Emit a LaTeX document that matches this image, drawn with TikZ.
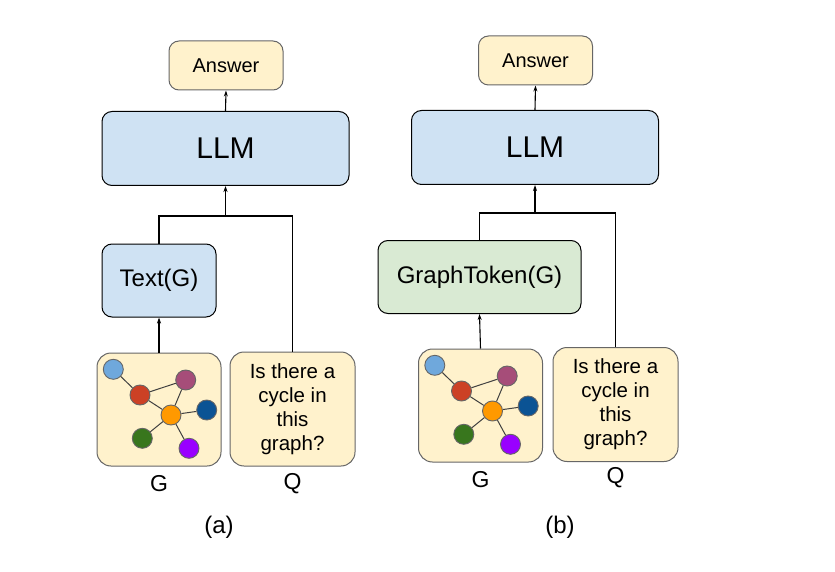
\documentclass[tikz,border=0pt]{standalone}
\usepackage{fontspec}
\setmainfont{Liberation Sans}
\usetikzlibrary{positioning, arrows.meta}

\definecolor{boxyellow}{HTML}{FFF2CC}
\definecolor{boxblue}{HTML}{CFE2F3}
\definecolor{boxgreen}{HTML}{D9EAD3}
\definecolor{boxgray}{HTML}{666666}
\definecolor{glblue}{HTML}{6FA8DC}
\definecolor{gred}{HTML}{CC4125}
\definecolor{gmauve}{HTML}{A64D79}
\definecolor{gorange}{HTML}{FF9900}
\definecolor{gdblue}{HTML}{0B5394}
\definecolor{ggreen}{HTML}{38761D}
\definecolor{gviolet}{HTML}{9900FF}

\tikzset{
    gnode/.style={circle, draw=boxgray, line width=0.9pt, minimum size=20pt, inner sep=0pt},
    gedge/.style={draw=black!75, line width=1pt},
    % small graph drawn inside the G boxes
    graphpic/.pic={
        \node[gnode, fill=glblue] (-lb) at (-45.7,-40.2) {};
        \node[gnode, fill=gred] (-rd) at (-19,-14.5) {};
        \node[gnode, fill=gmauve] (-mv) at (26.7,-29.5) {};
        \node[gnode, fill=gorange] (-or) at (12,5.5) {};
        \node[gnode, fill=gdblue] (-db) at (47.7,0.5) {};
        \node[gnode, fill=ggreen] (-gr) at (-16.7,28.8) {};
        \node[gnode, fill=gviolet] (-vi) at (30,38.8) {};
        \draw[gedge] (-lb) -- (-rd);
        \draw[gedge] (-rd) -- (-mv);
        \draw[gedge] (-rd) -- (-or);
        \draw[gedge] (-mv) -- (-or);
        \draw[gedge] (-or) -- (-db);
        \draw[gedge] (-or) -- (-gr);
        \draw[gedge] (-or) -- (-vi);
    }
}

\begin{document}
\begin{tikzpicture}[
    x=1pt, y=-1pt, >={Stealth[length=6pt, width=4pt]},
    block/.style={draw, rounded corners=10pt, line width=1pt, align=center, inner sep=0pt},
    answer/.style={block, draw=boxgray, fill=boxyellow, minimum width=114pt, minimum height=49pt, font=\fontsize{20}{24}\selectfont},
    llm/.style={block, fill=boxblue, minimum width=247pt, minimum height=74pt, font=\fontsize{30}{36}\selectfont},
    encoder/.style={block, minimum height=73pt, font=\fontsize{24}{29}\selectfont},
    gbox/.style={block, rounded corners=14pt, draw=boxgray, fill=boxyellow, minimum width=124pt, minimum height=113pt},
    qbox/.style={block, rounded corners=14pt, draw=boxgray, fill=boxyellow, minimum width=125pt, minimum height=114pt, font=\fontsize{20.5}{24}\selectfont},
    lbl/.style={inner sep=0pt, font=\fontsize{23}{27}\selectfont},
    caption/.style={inner sep=0pt, font=\fontsize{24}{28}\selectfont},
    link/.style={line width=1.1pt}
]
    \useasboundingbox (0,0) rectangle (835,572);

    % (a) text encoding
    \node[answer] (ansA) at (226,65.5) {Answer};
    \node[llm] (llmA) at (225.5,148.5) {LLM};
    \node[encoder, fill=boxblue, minimum width=114pt] (textA) at (159,280.5) {Text(G)};
    \node[gbox] (gboxA) at (159,409.5) {};
    \node[qbox] (qA) at (292.5,409) {Is there a\\cycle in\\this\\graph?};
    \pic (gA) at (gboxA.center) {graphpic};
    \node[lbl] (gLblA) at (159,484) {G};
    \node[lbl] (qLblA) at (292.5,484) {Q};
    \node[caption] (capA) at (219,527) {(a)};

    \coordinate[below=30pt of llmA.south] (jA);
    \draw[link, ->] (llmA.north) -- (ansA.south);
    \draw[link, ->] (jA) -- (llmA.south);
    \draw[link] (textA.north) |- (jA) -| (qA.north);
    \draw[link, ->] (gboxA.north) -- (textA.south);

    % (b) graph token encoding
    \node[answer] (ansB) at (535.5,60.5) {Answer};
    \node[llm] (llmB) at (535,147.5) {LLM};
    \node[encoder, fill=boxgreen, minimum width=203pt] (tokB) at (479.5,277) {GraphToken(G)};
    \node[gbox] (gboxB) at (480.5,405.5) {};
    \node[qbox] (qB) at (615.5,404.5) {Is there a\\cycle in\\this\\graph?};
    \pic (gB) at (gboxB.center) {graphpic};
    \node[lbl] (gLblB) at (480.5,480) {G};
    \node[lbl] (qLblB) at (615.5,478) {Q};
    \node[caption] (capB) at (560,527) {(b)};

    \coordinate[below=28pt of llmB.south] (jB);
    \draw[link, ->] (llmB.north) -- (ansB.south);
    \draw[link, ->] (jB) -- (llmB.south);
    \draw[link] (tokB.north) |- (jB) -| (qB.north);
    \draw[link, ->] (gboxB.north) -- (tokB.south);

\end{tikzpicture}
\end{document}
